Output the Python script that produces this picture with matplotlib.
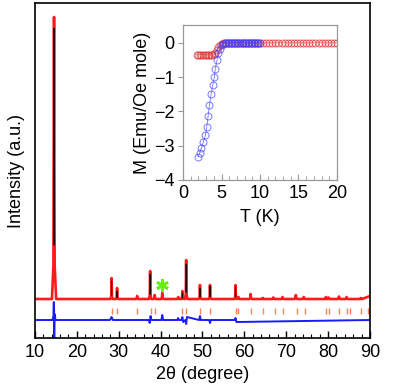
import matplotlib
matplotlib.use('Agg')
import matplotlib.pyplot as plt
from matplotlib.ticker import MultipleLocator

plt.rcParams['font.family'] = ['Liberation Sans', 'DejaVu Sans']

# XRD pattern (intensity in arbitrary units)
base_obs = 39
peak_pos = [14.55, 28.3, 29.6, 34.4, 37.5, 38.6, 40.4, 44.2, 45.2, 46.1, 49.4, 51.8,
            57.9, 58.6, 61.5, 64.4, 66.9, 69.1, 72.3, 74.2, 79.5, 80.1, 82.6, 84.4, 87.8]
peak_obs = [321, 60, 50, 42, 67, 43, 45, 41, 47, 78, 53, 53,
            53, 41, 44, 40, 40.5, 41, 43, 41, 41, 40.5, 41.5, 41, 40]
peak_calc = [310, 57, 47, 41, 64, 41, 39, 40, 45, 74, 50, 52,
             51, 40, 43, 40, 40, 40, 42, 40, 40, 40, 40, 40, 40]
peak_halfw = [0.5, 0.3, 0.3, 0.3, 0.3, 0.3, 0.3, 0.3, 0.3, 0.3, 0.3, 0.3,
              0.3, 0.3, 0.3, 0.3, 0.3, 0.3, 0.3, 0.3, 0.28, 0.28, 0.3, 0.3, 0.3]
end_obs = 42

bragg_pos = [14.55, 28.4, 29.7, 34.4, 37.6, 38.7, 45.2, 46.0, 49.4, 51.9, 57.9, 58.6,
             61.5, 64.4, 67.3, 69.3, 72.5, 74.5, 79.5, 80.1, 82.7, 84.6, 85.2, 87.8, 89.6]

diff_tth = [10.0, 14.2, 14.4, 14.5, 14.6, 14.7, 14.9, 27.9, 28.3, 28.6,
            37.2, 37.4, 37.6, 37.8, 40.2, 40.4, 40.6, 44.0, 44.2, 44.4,
            45.0, 45.2, 45.4, 45.9, 46.1, 46.3, 49.2, 49.4, 49.6, 51.6,
            51.8, 52.0, 57.7, 57.9, 58.1, 90.0]
diff_val = [18, 18, 22, 36, 0, 24, 18, 18, 21, 18,
            18, 15, 22, 18, 18, 23, 18, 18, 20, 18,
            18, 21, 16, 18, 14, 21, 18, 22, 18, 18,
            15, 18, 18, 20, 16, 18]

# inset: M vs T
fc_temp = [1.8, 2.0, 2.2, 2.4, 2.6, 2.8, 3.0, 3.2, 3.4, 3.6, 3.8, 4.0, 4.2, 4.4, 4.6, 4.8, 5.0,
           5.2, 5.4, 5.6, 5.8, 6.0, 6.2, 6.4, 6.6, 6.8, 7.0, 7.2, 7.4, 7.6, 7.8, 8.0,
           8.2, 8.4, 8.6, 8.8, 9.0, 9.2, 9.4, 9.6, 9.8, 10.0,
           10.4, 10.8, 11.2, 11.6, 12.0, 12.4, 12.8, 13.2, 13.6, 14.0, 14.4, 14.8, 15.2,
           15.6, 16.0, 16.4, 16.8, 17.2, 17.6, 18.0, 18.4, 18.8, 19.2, 19.6, 20.0]
fc_m = [-0.35, -0.35, -0.35, -0.35, -0.35, -0.35, -0.35, -0.35, -0.35, -0.35, -0.35, -0.34,
        -0.30, -0.22, -0.13, -0.06, -0.02,
        0.0, 0.0, 0.0, 0.0, 0.0, 0.0, 0.0, 0.0, 0.0, 0.0, 0.0, 0.0, 0.0, 0.0, 0.0,
        0.0, 0.0, 0.0, 0.0, 0.0, 0.0, 0.0, 0.0, 0.0, 0.0,
        0.0, 0.0, 0.0, 0.0, 0.0, 0.0, 0.0, 0.0, 0.0, 0.0, 0.0, 0.0, 0.0,
        0.0, 0.0, 0.0, 0.0, 0.0, 0.0, 0.0, 0.0, 0.0, 0.0, 0.0, 0.0]
zfc_temp = [1.97, 2.15, 2.36, 2.66, 2.92, 3.09, 3.26, 3.43, 3.65, 3.86, 4.08, 4.2,
            4.42, 4.6, 4.8, 5.0, 5.2, 5.4, 5.6, 5.8, 6.0, 6.2, 6.4, 6.6, 6.8, 7.0,
            7.2, 7.4, 7.6, 7.8, 8.0, 8.2, 8.4, 8.6, 8.8, 9.0, 9.2, 9.4, 9.6, 9.8, 10.0]
zfc_m = [-3.32, -3.22, -3.08, -2.88, -2.69, -2.45, -2.13, -1.82, -1.5, -1.23, -0.99, -0.75,
         -0.5, -0.31, -0.17, -0.07, -0.02, 0.0, 0.0, 0.0, 0.0, 0.0, 0.0, 0.0, 0.0, 0.0,
         0.0, 0.0, 0.0, 0.0, 0.0, 0.0, 0.0, 0.0, 0.0, 0.0, 0.0, 0.0, 0.0, 0.0, 0.0]

impurity_pos = 40.4

fig = plt.figure(figsize=(4.15, 3.9), dpi=100, facecolor='w')
ax = fig.add_axes([0.0843, 0.1333, 0.8072, 0.859])

# observed profile as polyline through read peak vertices (foot, shoulder, top)
obs_x = [10.0]
obs_y = [base_obs]
for p, h, w in zip(peak_pos, peak_obs, peak_halfw):
    sh = base_obs + 0.12 * (h - base_obs)
    obs_x += [p - w, p - w * 0.3, p, p + w * 0.3, p + w]
    obs_y += [base_obs, sh, h, sh, base_obs]
obs_x.append(90.0)
obs_y.append(end_obs)
ax.plot(obs_x, obs_y, '-', color='#ff1a1a', linewidth=1.9, zorder=2)

for p, h, w in zip(peak_pos, peak_calc, peak_halfw):
    if h - base_obs > 4:
        ax.plot([p - w * 0.15, p, p + w * 0.15],
                [base_obs + 0.2 * (h - base_obs), h, base_obs + 0.2 * (h - base_obs)],
                '-', color='black', linewidth=0.7, alpha=0.85, zorder=3)

ax.vlines(bragg_pos, 24, 30, color='#ff8050', linewidth=1.0, zorder=2)
ax.plot(diff_tth, diff_val, '-', color='#1a1aff', linewidth=1.4, zorder=2)

ax.plot([impurity_pos], [53], marker=(6, 2, 0), markersize=9, markeredgewidth=2,
        color='#66ee11', linestyle='none', zorder=4)

ax.set_xlim(10, 90)
ax.set_ylim(0, 335)
ax.set_yticks([])
ax.xaxis.set_major_locator(MultipleLocator(10))
ax.xaxis.set_minor_locator(MultipleLocator(2))
ax.tick_params(axis='x', which='major', direction='in', length=5, width=1,
               labelsize=13, pad=4, top=False)
ax.tick_params(axis='x', which='minor', direction='in', length=3, width=0.8, top=False)
for s in ax.spines.values():
    s.set_linewidth(1.2)
ax.set_xlabel('2\u03b8 (degree)', fontsize=13)
ax.xaxis.set_label_coords(0.5, -0.11)
ax.xaxis.label.set_verticalalignment('center')
ax.set_ylabel('Intensity (a.u.)', fontsize=13)
ax.yaxis.set_label_coords(-0.054, 0.5)
ax.yaxis.label.set_verticalalignment('center')

# inset
axi = fig.add_axes([0.441, 0.5385, 0.371, 0.3974])
axi.plot(fc_temp, fc_m, 'o-', color='#e03030', markerfacecolor='none', markersize=5,
         markeredgewidth=0.7, linewidth=0.5, alpha=0.7)
axi.plot(zfc_temp, zfc_m, 'o-', color='#4040ff', markerfacecolor='none', markersize=5,
         markeredgewidth=0.7, linewidth=0.6, alpha=0.7)
axi.set_xlim(0, 20)
axi.set_ylim(-4, 0.52)
axi.xaxis.set_major_locator(MultipleLocator(5))
axi.xaxis.set_minor_locator(MultipleLocator(1))
axi.yaxis.set_major_locator(MultipleLocator(1))
axi.tick_params(axis='x', which='both', direction='in', color='#999999',
                labelsize=13, pad=3.5)
axi.tick_params(axis='x', which='major', length=4)
axi.tick_params(axis='x', which='minor', length=3)
axi.tick_params(axis='y', direction='out', length=3.5, color='#999999', labelsize=13, pad=2.5)
for s in axi.spines.values():
    s.set_color('#999999')
    s.set_linewidth(0.9)
axi.set_xlabel('T (K)', fontsize=13)
axi.xaxis.set_label_coords(0.5, -0.245)
axi.xaxis.label.set_verticalalignment('center')
axi.set_ylabel('M (Emu/Oe mole)', fontsize=13)
axi.yaxis.set_label_coords(-0.26, 0.5)
axi.yaxis.label.set_verticalalignment('center')

fig.savefig('out.png', dpi=100)
plt.close()
